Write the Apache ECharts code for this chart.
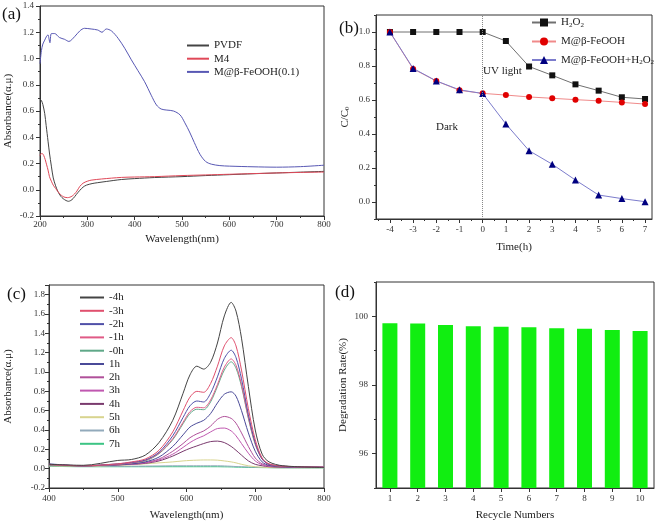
<!DOCTYPE html>
<html>
<head>
<meta charset="utf-8">
<script src="https://cdn.jsdelivr.net/npm/echarts@6/dist/echarts.min.js"></script>
<style>html,body{margin:0;padding:0;background:#fff;}#chart{width:661px;height:524px;}</style>
</head>
<body>
<div id="chart"></div>
<script>
// ---------- Panel (a): UV-vis absorbance of membranes ----------
const aWlPVDF = [200,203,206,210,213,217,220,224,228,233,238,244,249,255,260,265,270,277,284,291,298,310,322,340,372,400,442,500,550,600,650,700,750,800];
const aPVDF   = [0.69,0.68,0.65,0.58,0.49,0.37,0.28,0.18,0.09,0.03,-0.015,-0.05,-0.068,-0.082,-0.088,-0.082,-0.067,-0.035,-0.005,0.02,0.035,0.047,0.054,0.063,0.078,0.085,0.093,0.10,0.108,0.115,0.122,0.128,0.134,0.14];
const aWlM4 = [200,202,205,208,211,214,217,220,224,228,233,238,243,248,253,258,263,268,273,278,284,291,300,308,330,372,400,442,500,550,600,650,700,750,800];
const aM4   = [0.26,0.275,0.275,0.26,0.23,0.19,0.15,0.10,0.065,0.035,0.01,-0.015,-0.035,-0.05,-0.058,-0.06,-0.057,-0.048,-0.032,-0.01,0.025,0.05,0.065,0.073,0.082,0.094,0.097,0.10,0.108,0.113,0.118,0.123,0.128,0.132,0.135];
const aWlFe = [200,203,206,210,214,217,219,221,224,231,241,252,261,273,284,294,308,322,331,340,351,365,379,393,407,421,435,446,456,468,482,496,506,516,526,538,550,562,580,600,650,700,750,800];
const aFe   = [0.96,1.06,1.11,1.14,1.17,1.18,1.15,1.12,1.19,1.19,1.16,1.146,1.13,1.166,1.21,1.23,1.225,1.217,1.20,1.225,1.21,1.154,1.078,0.99,0.907,0.823,0.72,0.646,0.615,0.607,0.60,0.57,0.51,0.44,0.36,0.27,0.215,0.195,0.184,0.18,0.175,0.172,0.176,0.187];
const aNames = ['PVDF','M4','M@β-FeOOH(0.1)'];

// ---------- Panel (b): C/C0 vs time ----------
const bTime = [-4,-3,-2,-1,0,1,2,3,4,5,6,7];
const bH2O2 = [1.0,1.0,1.0,1.0,1.0,0.947,0.797,0.745,0.692,0.655,0.616,0.606];
const bFe   = [1.0,0.783,0.712,0.657,0.639,0.629,0.618,0.61,0.602,0.595,0.586,0.576];
const bFeH  = [1.0,0.786,0.712,0.66,0.638,0.459,0.302,0.222,0.129,0.041,0.02,0.002];
const bNames = ['H2O2','M@β-FeOOH','M@β-FeOOH+H2O2'];
const bXTicks = [-4,-3,-2,-1,0,1,2,3,4,5,6,7];
const bXMinor = [-4.5,-3.5,-2.5,-1.5,-0.5,0.5,1.5,2.5,3.5,4.5,5.5,6.5];
const bYTicks = [0,0.2,0.4,0.6,0.8,1.0];
const bYMinor = [-0.1,0.1,0.3,0.5,0.7,0.9,1.1];

// ---------- Panel (c): absorbance spectra vs time ----------
const cWl = [400,450,500,520,540,560,580,595,605,615,625,635,645,655,665,672,680,690,700,710,720,740,800];
const cNames = ['-4h','-3h','-2h','-1h','-0h','1h','2h','3h','4h','5h','6h','7h'];
const cM4h = [0.045,0.035,0.085,0.095,0.14,0.27,0.50,0.78,0.97,1.06,1.03,1.10,1.30,1.58,1.72,1.63,1.35,0.85,0.40,0.15,0.07,0.03,0.012];
const cM3h = [0.045,0.03,0.05,0.07,0.10,0.19,0.38,0.60,0.74,0.80,0.79,0.88,1.06,1.27,1.355,1.27,1.02,0.62,0.30,0.11,0.05,0.025,0.015];
const cM2h = [0.05,0.03,0.05,0.065,0.09,0.17,0.34,0.53,0.65,0.70,0.69,0.78,0.95,1.14,1.225,1.15,0.93,0.56,0.27,0.10,0.045,0.025,0.015];
const cM1h = [0.04,0.03,0.045,0.06,0.085,0.16,0.31,0.48,0.59,0.635,0.63,0.71,0.87,1.05,1.135,1.07,0.87,0.53,0.26,0.10,0.045,0.025,0.015];
const cM0h = [0.035,0.03,0.045,0.06,0.08,0.155,0.30,0.465,0.57,0.615,0.61,0.69,0.85,1.02,1.105,1.04,0.85,0.52,0.25,0.10,0.045,0.025,0.015];
const cP1h = [0.04,0.03,0.04,0.05,0.07,0.12,0.23,0.35,0.43,0.47,0.50,0.57,0.68,0.77,0.795,0.75,0.60,0.37,0.18,0.07,0.035,0.02,0.015];
const cP2h = [0.04,0.03,0.04,0.05,0.065,0.10,0.18,0.26,0.32,0.36,0.39,0.44,0.51,0.54,0.52,0.47,0.37,0.23,0.11,0.05,0.03,0.02,0.015];
const cP3h = [0.04,0.03,0.04,0.045,0.06,0.09,0.15,0.22,0.27,0.31,0.34,0.38,0.415,0.42,0.39,0.34,0.26,0.16,0.08,0.04,0.025,0.02,0.015];
const cP4h = [0.035,0.03,0.04,0.045,0.055,0.08,0.13,0.18,0.21,0.235,0.26,0.28,0.285,0.27,0.23,0.19,0.14,0.08,0.045,0.03,0.02,0.015,0.012];
const cP5h = [0.03,0.025,0.035,0.04,0.05,0.06,0.07,0.08,0.085,0.088,0.09,0.09,0.088,0.08,0.07,0.06,0.045,0.03,0.02,0.015,0.012,0.01,0.01];
const cP6h = [0.03,0.025,0.025,0.025,0.027,0.028,0.03,0.03,0.03,0.03,0.03,0.03,0.03,0.028,0.025,0.022,0.02,0.017,0.015,0.013,0.012,0.01,0.01];
const cP7h = [0.025,0.02,0.02,0.02,0.02,0.02,0.02,0.02,0.02,0.02,0.02,0.02,0.02,0.019,0.018,0.016,0.015,0.013,0.012,0.011,0.01,0.009,0.008];
const cColors = ['#444444','#e0506e','#5050a8','#e05a86','#5fa888','#4a4a98','#b0509a','#c058b0','#7a3a6e','#d8d48e','#92aabb','#3cc484'];

// ---------- Panel (d): recycling ----------
const dCycles = ['1','2','3','4','5','6','7','8','9','10'];
const dRate = [99.80,99.79,99.75,99.71,99.70,99.68,99.65,99.64,99.60,99.57];
const dYTicks = [96,98,100];
const dYMinor = [95,97,99,101];

const FONT = '"Liberation Serif", "Times New Roman", serif';
const zip = (xs, ys) => xs.map((x, i) => [x, ys[i]]);

function baseAxis(extra) {
  return Object.assign({
    axisLine: {show: true, onZero: false, lineStyle: {color: '#333', width: 1}},
    axisTick: {show: true, inside: false, length: 4, lineStyle: {color: '#333'}},
    axisLabel: {color: '#333', fontFamily: FONT, fontSize: 9},
    splitLine: {show: false},
    nameTextStyle: {fontFamily: FONT, fontSize: 11, color: '#222'}
  }, extra);
}
function minorAxis(gridIndex, min, max, values, position) {
  return {
    type: 'value', gridIndex, min, max, position,
    axisLine: {show: false, onZero: false},
    axisLabel: {show: false},
    splitLine: {show: false},
    axisTick: {show: true, inside: false, length: 2, customValues: values, lineStyle: {color: '#333'}}
  };
}

const subRich = {s: {fontSize: 7, fontFamily: FONT, color: '#222', verticalAlign: 'bottom', padding: [5, 0, 0, 0]}};
const hiddenSymbol = {opacity: 0};

const chart = echarts.init(document.getElementById('chart'), null, {renderer: 'canvas'});
const cSeries = [cM4h,cM3h,cM2h,cM1h,cM0h,cP1h,cP2h,cP3h,cP4h,cP5h,cP6h,cP7h].map((arr, i) => ({
  name: cNames[i], type: 'line', xAxisIndex: 3, yAxisIndex: 3,
  data: zip(cWl, arr), symbol: 'none', smooth: 0.3,
  lineStyle: {width: 1, color: cColors[i]}, itemStyle: {color: cColors[i]}, z: 20 - i
}));

const option = {
  animation: false,
  backgroundColor: '#fff',
  grid: [
    {left: 40, top: 6, width: 284, height: 210, show: true, borderColor: '#333', borderWidth: 1},
    {left: 376, top: 15, width: 276, height: 204, show: true, borderColor: '#333', borderWidth: 1},
    {left: 49, top: 285, width: 275, height: 203, show: true, borderColor: '#333', borderWidth: 1},
    {left: 376, top: 282, width: 278, height: 206, show: true, borderColor: '#333', borderWidth: 1}
  ],
  xAxis: [
    baseAxis({type: 'value', gridIndex: 0, min: 200, max: 800, interval: 100,
      minorTick: {show: true, splitNumber: 2, length: 2, lineStyle: {color: '#333'}},
      name: 'Wavelength(nm)', nameLocation: 'middle', nameGap: 18,
      axisLabel: {color: '#333', fontFamily: FONT, fontSize: 9, margin: 4}}),
    baseAxis({type: 'value', gridIndex: 1, min: -4.6, max: 7.3,
      axisTick: {show: true, inside: false, length: 4, customValues: bXTicks, lineStyle: {color: '#333'}},
      axisLabel: {color: '#333', fontFamily: FONT, fontSize: 9, margin: 6, customValues: bXTicks},
      name: 'Time(h)', nameLocation: 'middle', nameGap: 23}),
    minorAxis(1, -4.6, 7.3, bXMinor, 'bottom'),
    baseAxis({type: 'value', gridIndex: 2, min: 400, max: 800, interval: 100,
      minorTick: {show: true, splitNumber: 2, length: 2, lineStyle: {color: '#333'}},
      axisLabel: {color: '#333', fontFamily: FONT, fontSize: 9, margin: 6},
      name: 'Wavelength(nm)', nameLocation: 'middle', nameGap: 22}),
    baseAxis({type: 'category', gridIndex: 3, data: dCycles, boundaryGap: true,
      axisTick: {show: true, inside: false, length: 4, alignWithLabel: true, lineStyle: {color: '#333'}},
      axisLabel: {color: '#333', fontFamily: FONT, fontSize: 9, margin: 6},
      name: 'Recycle Numbers', nameLocation: 'middle', nameGap: 22})
  ],
  yAxis: [
    baseAxis({type: 'value', gridIndex: 0, min: -0.2, max: 1.4, interval: 0.2,
      minorTick: {show: true, splitNumber: 2, length: 2, lineStyle: {color: '#333'}},
      axisLabel: {color: '#333', fontFamily: FONT, fontSize: 9, margin: 6, formatter: v => v.toFixed(1)},
      name: 'Absorbance(α.μ)', nameLocation: 'middle', nameGap: 26}),
    baseAxis({type: 'value', gridIndex: 1, min: -0.1, max: 1.1, position: 'left',
      axisTick: {show: true, inside: false, length: 4, customValues: bYTicks, lineStyle: {color: '#333'}},
      axisLabel: {color: '#333', fontFamily: FONT, fontSize: 9, margin: 6, customValues: bYTicks, formatter: v => v.toFixed(1)},
      name: 'C/C{s|0}', nameLocation: 'middle', nameGap: 25,
      nameTextStyle: {fontFamily: FONT, fontSize: 11, color: '#222', rich: subRich}}),
    minorAxis(1, -0.1, 1.1, bYMinor, 'left'),
    baseAxis({type: 'value', gridIndex: 2, min: -0.2, max: 1.9, interval: 0.2,
      minorTick: {show: true, splitNumber: 2, length: 2, lineStyle: {color: '#333'}},
      axisLabel: {color: '#333', fontFamily: FONT, fontSize: 9, margin: 4, formatter: v => v > 1.85 ? '' : v.toFixed(1)},
      name: 'Absorbance(α.μ)', nameLocation: 'middle', nameGap: 35}),
    baseAxis({type: 'value', gridIndex: 3, min: 95, max: 101, position: 'left',
      axisTick: {show: true, inside: false, length: 4, customValues: dYTicks, lineStyle: {color: '#333'}},
      axisLabel: {color: '#333', fontFamily: FONT, fontSize: 9, margin: 8, customValues: dYTicks},
      name: 'Degradation Rate(%)', nameLocation: 'middle', nameGap: 27}),
    minorAxis(3, 95, 101, dYMinor, 'left')
  ],
  legend: [
    {data: aNames, orient: 'vertical', left: 186, top: 40, padding: 0, itemWidth: 22, itemHeight: 10, itemGap: 2.2,
      itemStyle: hiddenSymbol,
      textStyle: {fontFamily: FONT, fontSize: 11, color: '#222'}},
    {data: bNames, orient: 'vertical', left: 531, top: 17, padding: 0, itemWidth: 24, itemHeight: 10, itemGap: 7.5,
      formatter: n => n.replace(/H2O2/g, 'H{s|2}O{s|2}'),
      textStyle: {fontFamily: FONT, fontSize: 11, color: '#222', rich: subRich}},
    {data: cNames, orient: 'vertical', left: 79, top: 292, padding: 0, itemWidth: 24, itemHeight: 10, itemGap: 2.3,
      itemStyle: hiddenSymbol,
      textStyle: {fontFamily: FONT, fontSize: 11, color: '#222'}}
  ],
  graphic: [
    {type: 'text', left: 2, top: 6, style: {text: '(a)', font: '17px ' + FONT, fill: '#111'}},
    {type: 'text', left: 339, top: 20, style: {text: '(b)', font: '17px ' + FONT, fill: '#111'}},
    {type: 'text', left: 7, top: 286, style: {text: '(c)', font: '17px ' + FONT, fill: '#111'}},
    {type: 'text', left: 335, top: 284, style: {text: '(d)', font: '17px ' + FONT, fill: '#111'}},
    {type: 'text', left: 483, top: 66, style: {text: 'UV light', font: '11px ' + FONT, fill: '#222'}},
    {type: 'text', left: 436, top: 122, style: {text: 'Dark', font: '11px ' + FONT, fill: '#222'}}
  ],
  series: [
    {name: aNames[0], type: 'line', xAxisIndex: 0, yAxisIndex: 0, data: zip(aWlPVDF, aPVDF), symbol: 'none', smooth: 0.3,
      lineStyle: {width: 1, color: '#444'}, itemStyle: {color: '#444'}},
    {name: aNames[1], type: 'line', xAxisIndex: 0, yAxisIndex: 0, data: zip(aWlM4, aM4), symbol: 'none', smooth: 0.3,
      lineStyle: {width: 1, color: '#e04858'}, itemStyle: {color: '#e04858'}},
    {name: aNames[2], type: 'line', xAxisIndex: 0, yAxisIndex: 0, data: zip(aWlFe, aFe), symbol: 'none', smooth: 0.3,
      lineStyle: {width: 1, color: '#5858b4'}, itemStyle: {color: '#5858b4'}},

    {name: bNames[0], type: 'line', xAxisIndex: 1, yAxisIndex: 1, data: zip(bTime, bH2O2),
      symbol: 'rect', symbolSize: 6, lineStyle: {width: 1, color: '#707070'}, itemStyle: {color: '#111'},
      markLine: {silent: true, symbol: ['none', 'none'], label: {show: false},
        lineStyle: {type: 'dotted', color: '#888', width: 1}, data: [{xAxis: 0}]}},
    {name: bNames[1], type: 'line', xAxisIndex: 1, yAxisIndex: 1, data: zip(bTime, bFe),
      symbol: 'circle', symbolSize: 6, lineStyle: {width: 1, color: '#f08a8a'}, itemStyle: {color: '#e00000'}},
    {name: bNames[2], type: 'line', xAxisIndex: 1, yAxisIndex: 1, data: zip(bTime, bFeH),
      symbol: 'triangle', symbolSize: 7, lineStyle: {width: 1, color: '#7c7ccc'}, itemStyle: {color: '#000080'}},

    ...cSeries,

    {name: 'Degradation', type: 'bar', xAxisIndex: 4, yAxisIndex: 4, data: dRate, barWidth: 15,
      itemStyle: {color: '#11ee11'}}
  ]
};
chart.setOption(option);
</script>
</body>
</html>
